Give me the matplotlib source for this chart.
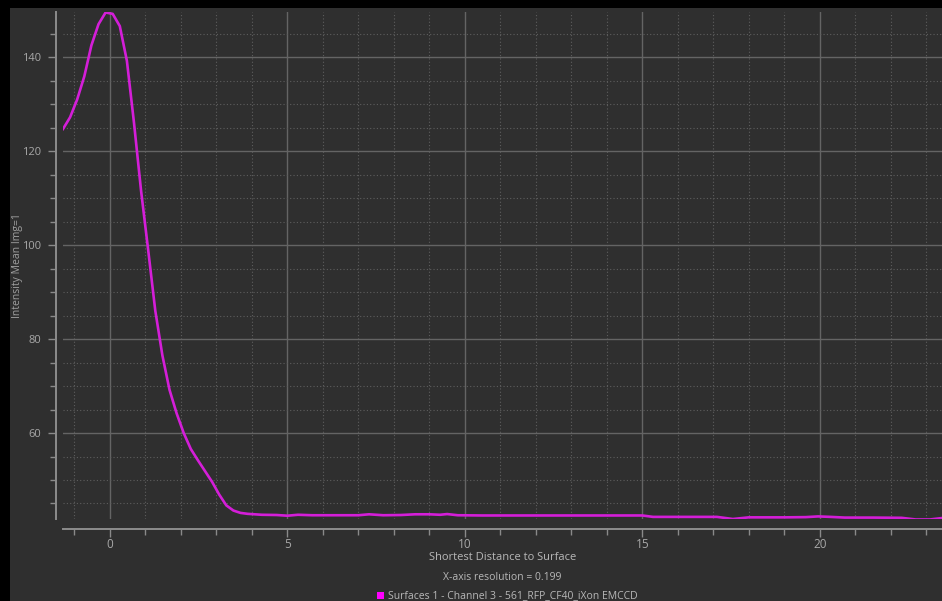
import matplotlib
matplotlib.use("Agg")
import matplotlib.pyplot as plt
from matplotlib.patches import Rectangle
from matplotlib.ticker import MultipleLocator

plt.rcParams['font.family'] = ['Open Sans', 'DejaVu Sans']

# Data
distance = [-1.32, -1.12, -0.92, -0.72, -0.52, -0.32, -0.12, 0.08, 0.28, 0.48,
            0.68, 0.88, 1.08, 1.28, 1.48, 1.68, 1.88, 2.08, 2.28, 2.48,
            2.68, 2.88, 3.08, 3.28, 3.48, 3.68, 3.88, 4.28, 4.7, 5.0,
            5.3, 5.7, 6.5, 7.0, 7.3, 7.7, 8.2, 8.6, 9.0, 9.3,
            9.5, 9.8, 10.5, 12.0, 14.0, 15.0, 15.3, 16.5, 17.1, 17.55,
            18.0, 19.0, 19.6, 19.95, 20.3, 20.7, 21.5, 22.3, 22.7, 23.1,
            23.44]
intensity = [124.7, 127.2, 131.0, 135.9, 142.5, 147.0, 149.5, 149.2, 146.6, 139.2,
             126.0, 111.5, 98.9, 86.0, 76.5, 69.2, 64.2, 60.0, 56.6, 54.2,
             51.9, 49.6, 46.9, 44.6, 43.5, 43.0, 42.8, 42.6, 42.55, 42.4,
             42.6, 42.5, 42.5, 42.5, 42.7, 42.5, 42.55, 42.7, 42.7, 42.6,
             42.75, 42.5, 42.45, 42.45, 42.45, 42.45, 42.15, 42.15, 42.15, 41.7,
             42.05, 42.05, 42.1, 42.25, 42.15, 42.0, 42.0, 41.95, 41.6, 41.6,
             41.9]

x_label = "Shortest Distance to Surface"
y_label = "Intensity Mean Img=1"
resolution_text = "X-axis resolution = 0.199"
legend_label = "Surfaces 1 - Channel 3 - 561_RFP_CF40_iXon EMCCD"

W, H = 942, 601
bg = '#2f2f2f'
tick_col = '#8a8a8a'
text_col = '#b8b8b8'
line_col = '#d41ed8'

fig = plt.figure(figsize=(W / 100, H / 100), dpi=100, facecolor='black')
# gray panel
fig.patches.append(Rectangle((10 / W, 0), 1 - 10 / W, 1 - 8 / H,
                             transform=fig.transFigure, facecolor=bg,
                             edgecolor='none', zorder=-10))

ax_left, ax_right = 63, 942
ax_top, ax_bot = 12, 519
ax = fig.add_axes([ax_left / W, 1 - ax_bot / H, (ax_right - ax_left) / W,
                   (ax_bot - ax_top) / H])
ax.set_facecolor(bg)
ax.set_zorder(1)

ax.plot(distance, intensity, color=line_col, lw=1.9, solid_joinstyle='round', zorder=3)

ax.set_xlim(-1.32, 23.44)
ax.set_ylim(41.7, 149.6)

ax.xaxis.set_major_locator(MultipleLocator(5))
ax.xaxis.set_minor_locator(MultipleLocator(1))
ax.yaxis.set_major_locator(MultipleLocator(20))
ax.yaxis.set_minor_locator(MultipleLocator(5))

ax.grid(which='major', color='#646464', lw=1.0, ls='-')
ax.grid(which='minor', color='#5e5e5e', lw=0.8, ls=(0, (1, 2)))
ax.set_axisbelow(True)

for s in ['top', 'right']:
    ax.spines[s].set_visible(False)
ax.spines['left'].set_position(('outward', 5))
ax.spines['bottom'].set_position(('outward', 7))
for s in ['left', 'bottom']:
    ax.spines[s].set_color('#8c8c8c')
    ax.spines[s].set_linewidth(1.4)

ax.tick_params(which='major', length=6, width=1, color=tick_col,
               labelcolor='#a8a8a8', labelsize=8.5)
ax.tick_params(which='minor', length=4, width=1, color=tick_col)
ax.tick_params(axis='x', pad=1)
ax.tick_params(axis='y', pad=5, labelsize=8)

# Texts below the plot
cx = (ax_left + ax_right) / 2 / W
fig.text(cx, 1 - 558 / H, x_label, ha='center', va='center',
         color=text_col, fontsize=8)
fig.text(cx, 1 - 578 / H, resolution_text, ha='center', va='center',
         color=text_col, fontsize=7.5)
fig.text(388 / W, 1 - 596 / H, legend_label, ha='left', va='center',
         color=text_col, fontsize=7.5)
fig.patches.append(Rectangle((377 / W, 1 - 599 / H), 7 / W, 7 / H,
                             transform=fig.transFigure, facecolor='#ff00ff',
                             edgecolor='none', zorder=5))
fig.text(18 / W, 1 - 266 / H, y_label, ha='center', va='center', rotation=90,
         color='#a0a0a0', fontsize=7.5)

fig.savefig('out.png', dpi=100, facecolor='black')
